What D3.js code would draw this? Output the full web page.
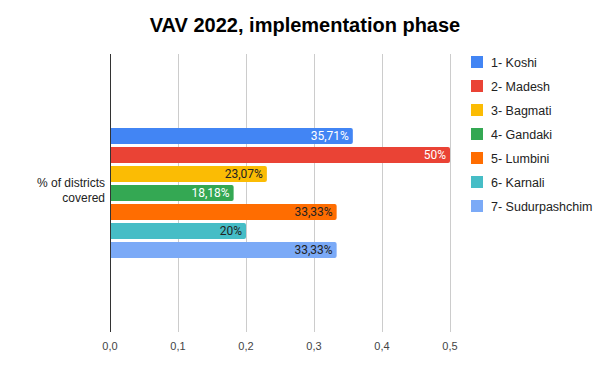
<!DOCTYPE html>
<html lang="en">
<head>
  <meta charset="UTF-8">
  <title>VAV 2022, implementation phase</title>
  <script src="https://d3js.org/d3.v7.min.js"></script>
  <style>
    body { margin: 0; background: #fff; }
    svg { display: block; font-family: "Liberation Sans", Arial, sans-serif; }
    .grid line { stroke: #cccccc; shape-rendering: crispEdges; }
    .tick-label { font-size: 11px; fill: #444; }
    .bar-label { font-family: Roboto, sans-serif; font-size: 12px; }
    .legend text { font-size: 12.5px; fill: #222; }
  </style>
</head>
<body>
  <svg width="611" height="371"></svg>

  <script>
    const category = "% of districts covered";
    const regions  = ["1- Koshi", "2- Madesh", "3- Bagmati", "4- Gandaki", "5- Lumbini", "6- Karnali", "7- Sudurpashchim"];
    const values   = [0.3571, 0.50, 0.2307, 0.1818, 0.3333, 0.20, 0.3333];
    const labels   = ["35,71%", "50%", "23,07%", "18,18%", "33,33%", "20%", "33,33%"];
    const colors   = ["#4285f4", "#ea4335", "#fbbc04", "#34a853", "#ff6d01", "#46bdc6", "#7baaf7"];
    const labelInk = ["#fff", "#fff", "#222", "#fff", "#222", "#222", "#222"];
    const ticks    = [0, 0.1, 0.2, 0.3, 0.4, 0.5];

    const svg = d3.select("svg");
    const plot = { left: 110, right: 450, top: 54, bottom: 332 };

    const x = d3.scaleLinear().domain([0, 0.5]).range([plot.left, plot.right]);
    const y0 = d3.scaleBand().domain([category]).range([plot.top, plot.bottom])
                 .paddingInner(0).paddingOuter(0.569);
    const y1 = d3.scaleBand().domain(regions).range([0, y0.bandwidth()])
                 .paddingInner(0.16).paddingOuter(0);

    // title
    svg.append("text")
       .attr("x", 305).attr("y", 32)
       .attr("text-anchor", "middle")
       .style("font-size", "20px").style("font-weight", "bold").style("fill", "#000")
       .text("VAV 2022, implementation phase");

    // grid lines
    svg.append("g").attr("class", "grid")
       .selectAll("line").data(ticks.slice(1)).join("line")
       .attr("x1", d => Math.round(x(d)) + 0.5).attr("x2", d => Math.round(x(d)) + 0.5)
       .attr("y1", plot.top).attr("y2", plot.bottom);

    // tick labels
    const fmt = d => d3.format(".1f")(d).replace(".", ",");
    svg.append("g").selectAll("text").data(ticks).join("text")
       .attr("class", "tick-label")
       .attr("x", d => x(d)).attr("y", 350)
       .attr("text-anchor", "middle")
       .text(fmt);

    // bars
    const g = svg.append("g").attr("transform", `translate(0,${y0(category)})`);
    const rows = regions.map((r, i) => ({ r, v: values[i], lab: labels[i], c: colors[i], ink: labelInk[i] }));

    g.selectAll("rect").data(rows).join("rect")
     .attr("x", x(0) - 3)
     .attr("y", d => y1(d.r))
     .attr("width", d => x(d.v) - x(0) + 3)
     .attr("height", y1.bandwidth())
     .attr("rx", 2).attr("ry", 2)
     .attr("fill", d => d.c);

    g.selectAll("text").data(rows).join("text")
     .attr("class", "bar-label")
     .attr("x", d => x(d.v) - 4)
     .attr("y", d => y1(d.r) + y1.bandwidth() / 2)
     .attr("dy", "0.36em")
     .attr("text-anchor", "end")
     .attr("fill", d => d.ink)
     .text(d => d.lab);

    // white mask left of axis for rounded-corner overhang, then zero line
    svg.append("rect").attr("x", x(0) - 4).attr("y", plot.top).attr("width", 4)
       .attr("height", plot.bottom - plot.top).attr("fill", "#fff");
    svg.append("line")
       .attr("x1", x(0) + 0.5).attr("x2", x(0) + 0.5)
       .attr("y1", plot.top).attr("y2", plot.bottom)
       .attr("stroke", "#333").style("shape-rendering", "crispEdges");

    // category label
    const cy = y0(category) + y0.bandwidth() / 2;
    svg.append("text")
       .attr("x", 105).attr("y", cy - 7)
       .attr("text-anchor", "end")
       .style("font-size", "12px").style("fill", "#222")
       .selectAll("tspan").data(["% of districts", "covered"]).join("tspan")
       .attr("x", 105).attr("dy", (d, i) => i === 0 ? "0.1em" : "1.2em")
       .text(d => d);

    // legend
    const legend = svg.append("g").attr("class", "legend")
                      .attr("transform", "translate(471,56)");
    const item = legend.selectAll("g").data(rows).join("g")
                       .attr("transform", (d, i) => `translate(0,${i * 24})`);
    item.append("rect").attr("width", 12).attr("height", 12).attr("fill", d => d.c);
    item.append("text").attr("x", 20).attr("y", 6).attr("dy", "0.36em").text(d => d.r);
  </script>
</body>
</html>
